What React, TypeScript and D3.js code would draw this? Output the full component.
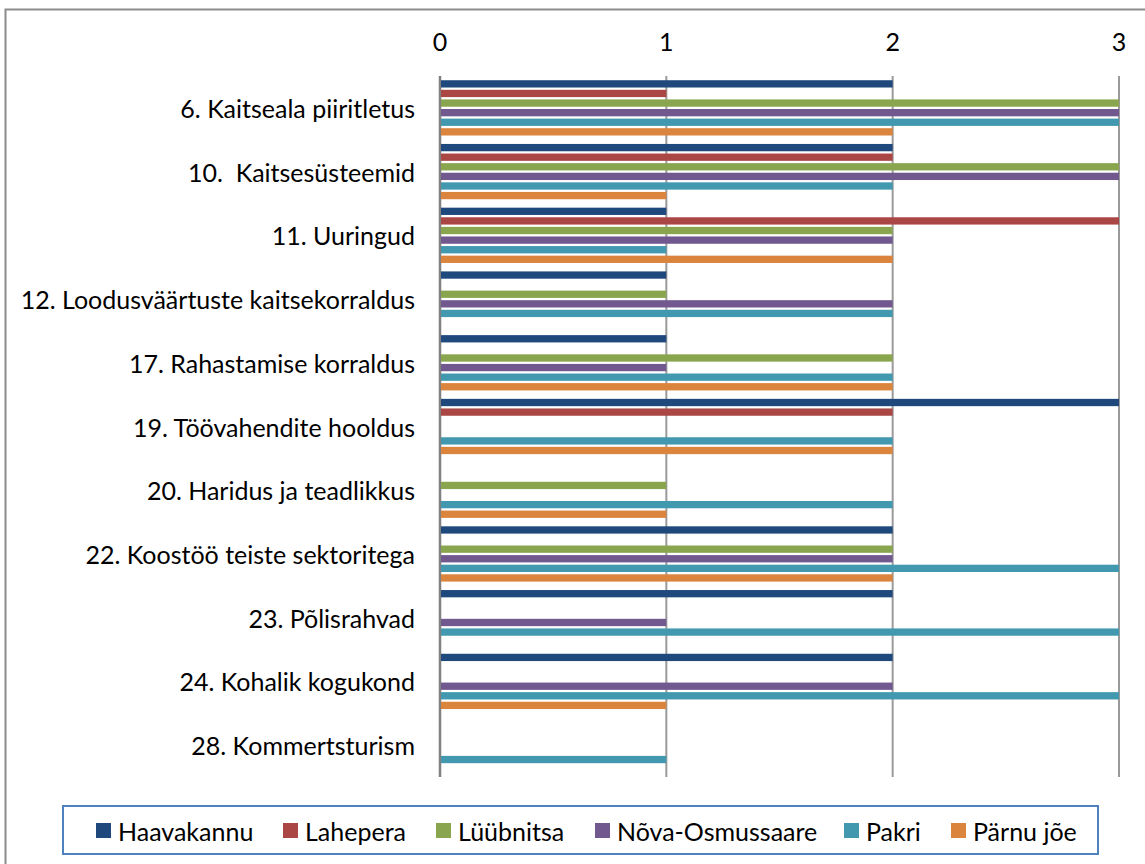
import React from "react";
import * as d3 from "d3";

const categories = [
  "6. Kaitseala piiritletus",
  "10.  Kaitsesüsteemid",
  "11. Uuringud",
  "12. Loodusväärtuste kaitsekorraldus",
  "17. Rahastamise korraldus",
  "19. Töövahendite hooldus",
  "20. Haridus ja teadlikkus",
  "22. Koostöö teiste sektoritega",
  "23. Põlisrahvad",
  "24. Kohalik kogukond",
  "28. Kommertsturism",
];

const seriesNames = ["Haavakannu", "Lahepera", "Lüübnitsa", "Nõva-Osmussaare", "Pakri", "Pärnu jõe"];
const seriesColors = ["#1F497D", "#AA4643", "#89A54E", "#71588F", "#4198AF", "#DB843D"];

const haavakannu = [2, 2, 1, 1, 1, 3, 0, 2, 2, 2, 0];
const lahepera = [1, 2, 3, 0, 0, 2, 0, 0, 0, 0, 0];
const luubnitsa = [3, 3, 2, 1, 2, 0, 1, 2, 0, 0, 0];
const novaOsmussaare = [3, 3, 2, 2, 1, 0, 0, 2, 1, 2, 0];
const pakri = [3, 2, 1, 2, 2, 2, 2, 3, 3, 3, 1];
const parnuJoe = [2, 1, 2, 0, 2, 2, 1, 2, 0, 1, 0];

const seriesValues = [haavakannu, lahepera, luubnitsa, novaOsmussaare, pakri, parnuJoe];
const xTicks = [0, 1, 2, 3];

const FONT = "Lato, 'Open Sans', sans-serif";
const FS = 25;

export default function App() {
  const x = d3.scaleLinear().domain([0, 3]).range([440, 1119]);
  const y = d3.scaleBand<string>().domain(categories).range([76, 777]).paddingInner(0).paddingOuter(0);
  const inner = d3
    .scaleBand<string>()
    .domain(seriesNames)
    .range([0, y.bandwidth()])
    .paddingInner(0.24)
    .paddingOuter(0.44);

  const legendSquareX = [96, 283, 436, 595, 844, 951];

  return (
    <div style={{ position: "absolute", left: 0, top: 0 }}>
      <svg width={1145} height={864} style={{ display: "block", fontFamily: FONT }}>
        <rect x={0} y={0} width={1145} height={864} fill="#fff" />
        <rect x={5.5} y={9.5} width={1160} height={880} fill="#fff" stroke="#8c8c8c" strokeWidth={2} />

        {/* gridlines */}
        {xTicks.map((t) => (
          <line
            key={"g" + t}
            x1={x(t)}
            x2={x(t)}
            y1={76}
            y2={777}
            stroke={t === 0 ? "#808080" : "#9a9a9a"}
            strokeWidth={t === 0 ? 2.5 : 2}
          />
        ))}

        {/* tick labels */}
        {xTicks.map((t) => (
          <text
            key={"t" + t}
            x={x(t)}
            y={41}
            textAnchor="middle"
            dominantBaseline="central"
            fontSize={FS}
            fill="#000"
          >
            {t}
          </text>
        ))}

        {/* bars */}
        {categories.map((c, i) =>
          seriesNames.map((s, j) => {
            const v = seriesValues[j][i];
            if (!v) return null;
            return (
              <rect
                key={c + s}
                x={x(0) + 1}
                y={(y(c) as number) + (inner(s) as number)}
                width={x(v) - x(0) - 1}
                height={inner.bandwidth()}
                fill={seriesColors[j]}
              />
            );
          })
        )}

        {/* category labels */}
        {categories.map((c) => (
          <text
            key={"l" + c}
            x={415}
            y={(y(c) as number) + y.bandwidth() / 2}
            textAnchor="end"
            dominantBaseline="central"
            fontSize={FS}
            fill="#000"
            style={{ whiteSpace: "pre" }}
          >
            {c}
          </text>
        ))}

        {/* legend */}
        <rect x={63} y={806} width={1035} height={48} fill="#fff" stroke="#4F81BD" strokeWidth={2} />
        {seriesNames.map((s, j) => (
          <g key={"lg" + s}>
            <rect x={legendSquareX[j]} y={823} width={15} height={15} fill={seriesColors[j]} />
            <text
              x={legendSquareX[j] + 22}
              y={831}
              dominantBaseline="central"
              fontSize={FS}
              fill="#000"
            >
              {s}
            </text>
          </g>
        ))}
      </svg>
    </div>
  );
}
